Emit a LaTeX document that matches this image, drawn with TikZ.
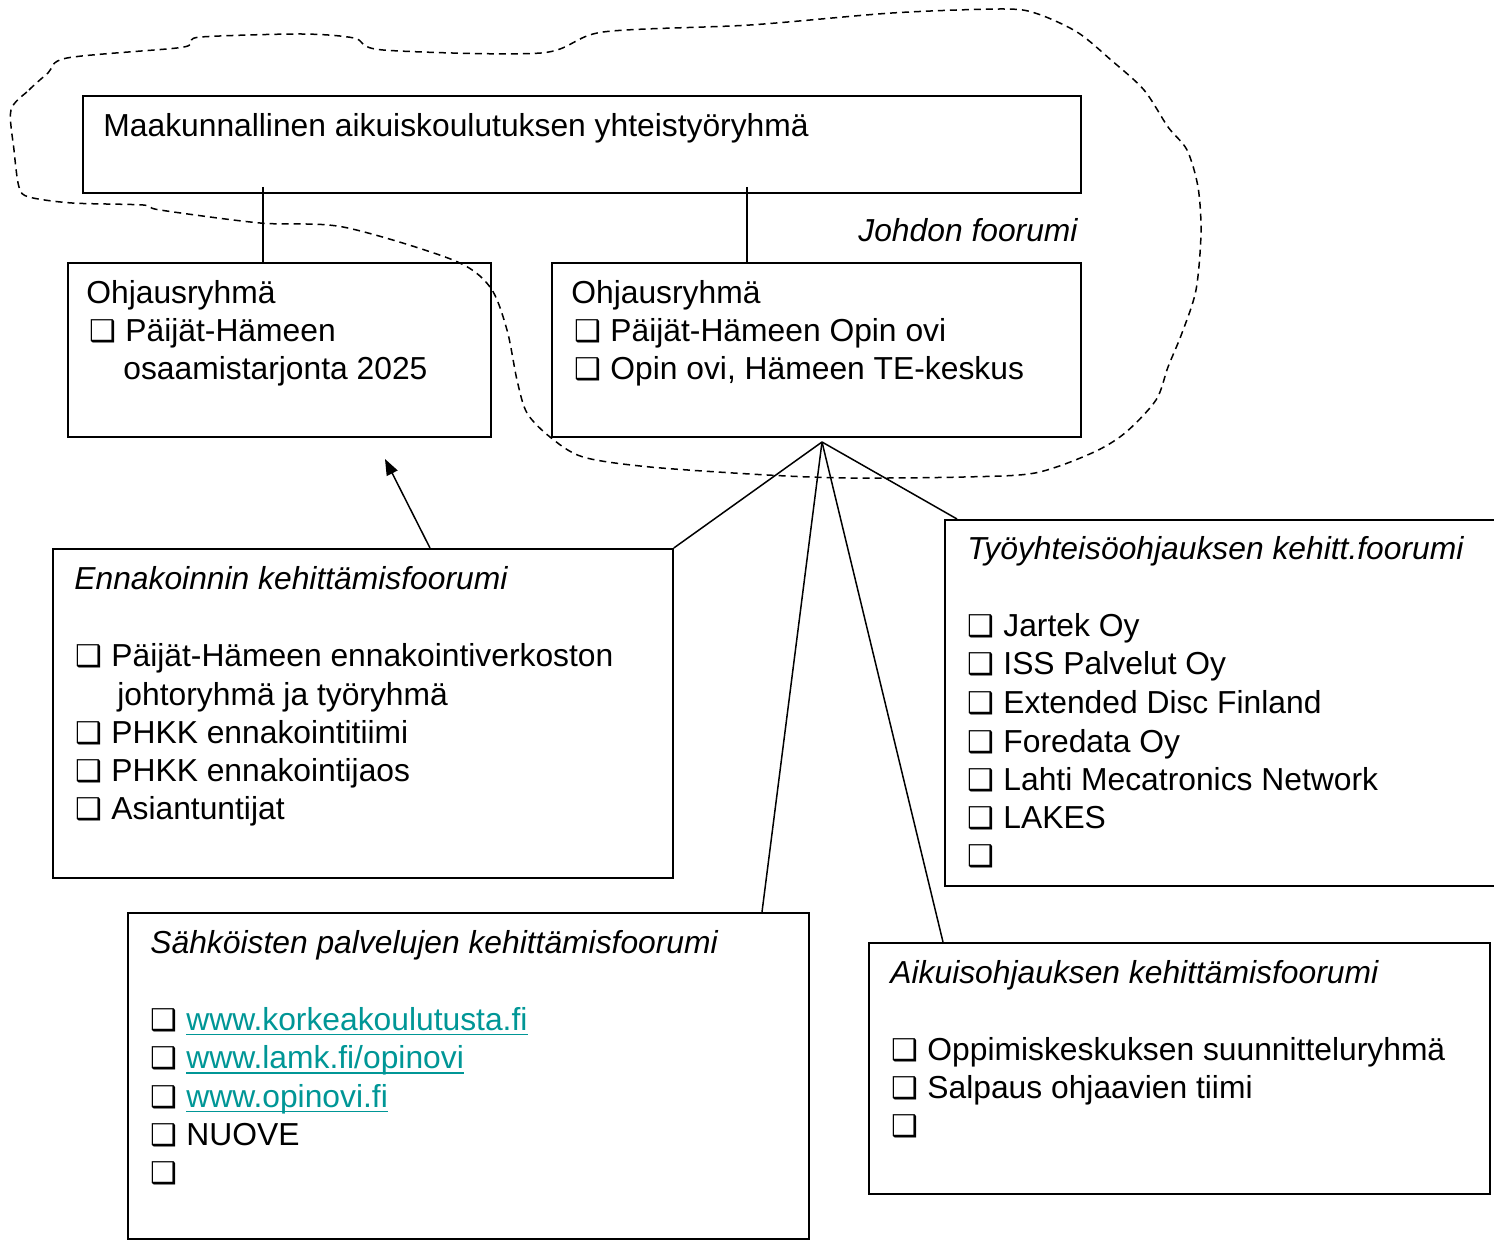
\documentclass[tikz,border=0pt]{standalone}
\usepackage{fontspec}
\setmainfont{Liberation Sans}
\newfontfamily\cbfont{DejaVu Sans}
\usetikzlibrary{arrows.meta}
\definecolor{linkc}{RGB}{0,150,150}
\newcommand\cbx{\makebox[18pt][l]{\cbfont\fontsize{15pt}{15pt}\selectfont ❑}}
\newcommand\lnk[1]{\sbox0{#1}\textcolor{linkc}{\rlap{\rule[-2.6pt]{\wd0}{0.8pt}}#1}}
\begin{document}
\begin{tikzpicture}[x=0.5pt,y=-0.5pt,
  box/.style={draw, line width=0.9pt, rectangle, anchor=north west, inner sep=0pt},
  txt/.style={anchor=base west, inner sep=0pt, font=\fontsize{15.9pt}{19pt}\selectfont},
  ttl/.style={anchor=base west, inner sep=0pt, font=\fontsize{15.9pt}{19pt}\selectfont\itshape},
  conn/.style={line width=0.75pt},
  cloud/.style={line width=0.75pt, dash pattern=on 3.5pt off 2.5pt}]
\useasboundingbox (0,0) rectangle (1494,1240);
% boxes
\node[box, minimum width=499pt, minimum height=48.5pt] (top) at (82,95) {};
\node[box, minimum width=211.5pt, minimum height=87pt] (lo) at (67,262) {};
\node[box, minimum width=264.5pt, minimum height=87pt] (ro) at (551,262) {};
\node[box, minimum width=310pt, minimum height=164.5pt] (en) at (52,548) {};
\node[box, minimum width=276.5pt, minimum height=183pt] (ty) at (944,519) {};
\node[box, minimum width=340.5pt, minimum height=163pt] (sa) at (127,912) {};
\node[box, minimum width=310.5pt, minimum height=125.5pt] (ai) at (868,942) {};
% texts
\node[txt] (t0) at (103,137) {Maakunnallinen aikuiskoulutuksen yhteistyöryhmä};
\node[ttl, anchor=base east] (jf) at (1078,242) {Johdon foorumi};
\node[txt] (lo1) at (86,303.5) {Ohjausryhmä};
\node[txt] (lo2) at (89,341.5) {\cbx Päijät-Hämeen};
\node[txt] (lo3) at (123,379.5) {osaamistarjonta 2025};
\node[txt] (ro1) at (571,303.5) {Ohjausryhmä};
\node[txt] (ro2) at (574,341.5) {\cbx Päijät-Hämeen Opin ovi};
\node[txt] (ro3) at (574,379.5) {\cbx Opin ovi, Hämeen TE-keskus};
\node[ttl] (en0) at (74,590) {Ennakoinnin kehittämisfoorumi};
\node[txt] (en1) at (75,667) {\cbx Päijät-Hämeen ennakointiverkoston};
\node[txt] (en2) at (117,705) {johtoryhmä ja työryhmä};
\node[txt] (en3) at (75,743.3) {\cbx PHKK ennakointitiimi};
\node[txt] (en4) at (75,781) {\cbx PHKK ennakointijaos};
\node[txt] (en5) at (75,819) {\cbx Asiantuntijat};
\node[ttl] (ty0) at (967,560) {Työyhteisöohjauksen kehitt.foorumi};
\node[txt] (ty1) at (967,637) {\cbx Jartek Oy};
\node[txt] (ty2) at (967,675) {\cbx ISS Palvelut Oy};
\node[txt] (ty3) at (967,713.5) {\cbx Extended Disc Finland};
\node[txt] (ty4) at (967,752) {\cbx Foredata Oy};
\node[txt] (ty5) at (967,790) {\cbx Lahti Mecatronics Network};
\node[txt] (ty6) at (967,828.5) {\cbx LAKES};
\node[txt] (ty7) at (967,866.5) {\cbx};
\node[ttl] (sa0) at (150,953.5) {Sähköisten palvelujen kehittämisfoorumi};
\node[txt] (sa1) at (150,1030) {\cbx\lnk{www.korkeakoulutusta.fi}};
\node[txt] (sa2) at (150,1068.5) {\cbx\lnk{www.lamk.fi/opinovi}};
\node[txt] (sa3) at (150,1107) {\cbx\lnk{www.opinovi.fi}};
\node[txt] (sa4) at (150,1145) {\cbx NUOVE};
\node[txt] (sa5) at (150,1183) {\cbx};
\node[ttl] (ai0) at (890,983.5) {Aikuisohjauksen kehittämisfoorumi};
\node[txt] (ai1) at (891,1060) {\cbx Oppimiskeskuksen suunnitteluryhmä};
\node[txt] (ai2) at (891,1098.5) {\cbx Salpaus ohjaavien tiimi};
\node[txt] (ai3) at (891,1136.5) {\cbx};
% connectors
\coordinate (c1) at ([xshift=90.5pt,yshift=3.5pt]top.south west);
\coordinate (c2) at ([xshift=332.5pt,yshift=3.5pt]top.south west);
\draw[conn] (c1) -- (c1 |- lo.north);
\draw[conn] (c2) -- (c2 |- ro.north);
\coordinate (apex) at (822,442);
\draw[conn] (apex) -- (en.north east);
\draw[conn] (apex) -- ([xshift=6.5pt]ty.north west);
\draw[conn] (apex) -- ([xshift=317.5pt]sa.north west);
\draw[conn] (apex) -- ([xshift=37.5pt]ai.north west);
\coordinate (tip) at (385,459);
\draw[conn, -{Triangle[length=8pt,width=6pt]}] ([xshift=189pt]en.north west) -- (tip);
% dashed cloud
\draw[cloud] plot[smooth cycle, tension=0.5] coordinates {
 (11,110) (29,90) (48,73) (67,58) (177,48) (191,43) (201,37) (301,34) (354,38) (383,50)
 (541,53) (603,32) (750,25) (892,13) (1001,9) (1035,13) (1077,32) (1111,60) (1144,90)
 (1168,127) (1187,150) (1198,187) (1201,233) (1196,290) (1182,333) (1168,367) (1156,400)
 (1125,433) (1092,453) (1035,473) (964,477) (850,478) (767,475) (650,467) (583,457)
 (550,437) (527,413) (517,380) (507,330) (490,287) (453,260) (343,227) (260,223)
 (160,210) (143,205) (72,203) (29,197) (19,187) (14,150)};
\end{tikzpicture}
\end{document}
